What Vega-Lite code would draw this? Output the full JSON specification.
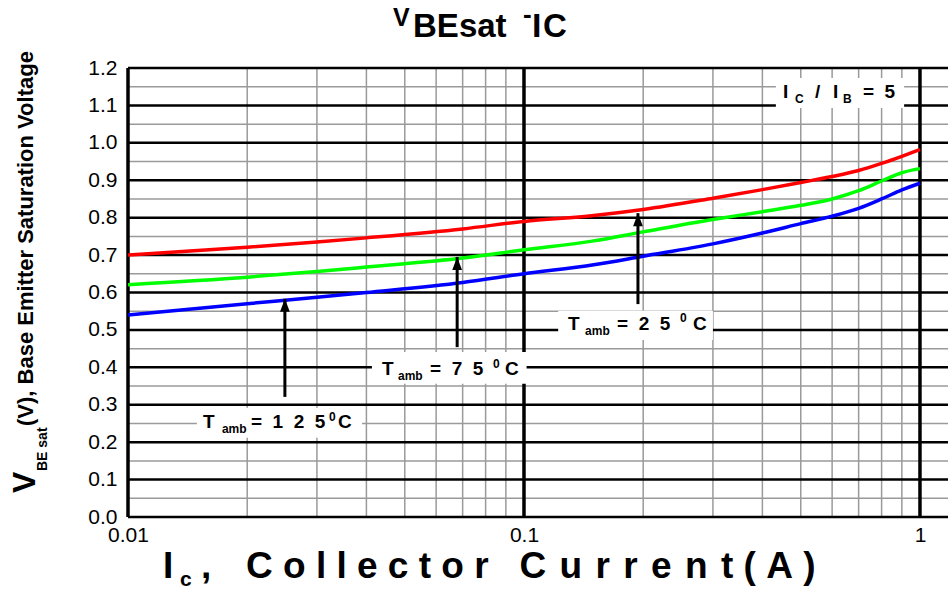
{
"$schema": "https://vega.github.io/schema/vega-lite/v6.json",
"width": 820, "height": 449,
"autosize": {"type": "none"},
"padding": {"left": 128, "top": 68, "right": 0, "bottom": 75},
"background": "white",
"config": {"view": {"stroke": null}, "text": {"font": "Liberation Sans", "fontWeight": "bold", "align": "left", "baseline": "alphabetic", "color": "black"}},
"resolve": {"axis": {"x": "independent", "y": "independent"}},
"datasets": {
 "one": [{"k": 1}],
 "xminor": [{"v":0.02},{"v":0.03},{"v":0.04},{"v":0.05},{"v":0.06},{"v":0.07},{"v":0.08},{"v":0.09},{"v":0.2},{"v":0.3},{"v":0.4},{"v":0.5},{"v":0.6},{"v":0.7},{"v":0.8},{"v":0.9}],
 "xmajor": [{"v":0.01},{"v":0.1},{"v":1}],
 "yminor": [{"v":0.05},{"v":0.15},{"v":0.25},{"v":0.35},{"v":0.45},{"v":0.55},{"v":0.65},{"v":0.75},{"v":0.85},{"v":0.95},{"v":1.05},{"v":1.15}],
 "ymajor": [{"v":0},{"v":0.1},{"v":0.2},{"v":0.3},{"v":0.4},{"v":0.5},{"v":0.6},{"v":0.7},{"v":0.8},{"v":0.9},{"v":1.0},{"v":1.1},{"v":1.2}],
 "boxes": [
  {"label":"125","x1":0.01493,"x2":0.0390,"y1":0.212,"y2":0.292},
  {"label":"75","x1":0.0413,"x2":0.1015,"y1":0.356,"y2":0.441},
  {"label":"25","x1":0.122,"x2":0.300,"y1":0.473,"y2":0.551},
  {"label":"ratio","x1":0.4326,"x2":0.912,"y1":1.093,"y2":1.173}
 ],
 "arrows": [
  {"t":"125","ic":0.0249,"base":0.321,"tip":0.583},
  {"t":"75","ic":0.0678,"base":0.454,"tip":0.695},
  {"t":"25","ic":0.194,"base":0.569,"tip":0.812}
 ],
 "curves": [
  {"t":"25","ic":0.01,"v":0.700},{"t":"25","ic":0.02,"v":0.721},{"t":"25","ic":0.03,"v":0.735},{"t":"25","ic":0.04,"v":0.746},{"t":"25","ic":0.07,"v":0.770},{"t":"25","ic":0.1,"v":0.790},{"t":"25","ic":0.15,"v":0.806},{"t":"25","ic":0.2,"v":0.822},{"t":"25","ic":0.3,"v":0.852},{"t":"25","ic":0.4,"v":0.875},{"t":"25","ic":0.5,"v":0.894},{"t":"25","ic":0.6,"v":0.910},{"t":"25","ic":0.7,"v":0.926},{"t":"25","ic":0.8,"v":0.945},{"t":"25","ic":0.9,"v":0.964},{"t":"25","ic":1.0,"v":0.982},
  {"t":"75","ic":0.01,"v":0.621},{"t":"75","ic":0.02,"v":0.641},{"t":"75","ic":0.03,"v":0.656},{"t":"75","ic":0.04,"v":0.668},{"t":"75","ic":0.07,"v":0.692},{"t":"75","ic":0.1,"v":0.714},{"t":"75","ic":0.15,"v":0.738},{"t":"75","ic":0.2,"v":0.762},{"t":"75","ic":0.3,"v":0.795},{"t":"75","ic":0.4,"v":0.816},{"t":"75","ic":0.5,"v":0.833},{"t":"75","ic":0.6,"v":0.850},{"t":"75","ic":0.7,"v":0.872},{"t":"75","ic":0.8,"v":0.898},{"t":"75","ic":0.9,"v":0.920},{"t":"75","ic":1.0,"v":0.931},
  {"t":"125","ic":0.01,"v":0.540},{"t":"125","ic":0.02,"v":0.570},{"t":"125","ic":0.03,"v":0.587},{"t":"125","ic":0.04,"v":0.600},{"t":"125","ic":0.07,"v":0.627},{"t":"125","ic":0.1,"v":0.650},{"t":"125","ic":0.15,"v":0.674},{"t":"125","ic":0.2,"v":0.697},{"t":"125","ic":0.3,"v":0.730},{"t":"125","ic":0.4,"v":0.759},{"t":"125","ic":0.5,"v":0.784},{"t":"125","ic":0.6,"v":0.804},{"t":"125","ic":0.7,"v":0.825},{"t":"125","ic":0.8,"v":0.850},{"t":"125","ic":0.9,"v":0.874},{"t":"125","ic":1.0,"v":0.892}
 ]
},
"layer": [
 {"data":{"name":"xminor"},"mark":{"type":"rule","color":"#9a9a9a","strokeWidth":1.5},
  "encoding":{"x":{"field":"v","type":"quantitative","scale":{"type":"log","domain":[0.01,1.177],"nice":false},
        "axis":{"values":[0.01,0.1,1],"labelExpr":"datum.value < 0.05 ? '0.01' : (datum.value < 0.5 ? '0.1' : '1')","grid":false,"ticks":false,"domain":false,"title":null,"labelFont":"Liberation Sans","labelFontSize":21,"labelFontWeight":"normal","labelColor":"black","labelPadding":7,"labelFlush":false,"labelOverlap":false,"orient":"bottom"}}}},
 {"data":{"name":"yminor"},"mark":{"type":"rule","color":"#9a9a9a","strokeWidth":1.5},
  "encoding":{"y":{"field":"v","type":"quantitative","scale":{"domain":[0,1.2],"nice":false,"zero":false},
        "axis":{"values":[0,0.1,0.2,0.3,0.4,0.5,0.6,0.7,0.8,0.9,1.0,1.1,1.2],"format":".1f","grid":false,"ticks":false,"domain":false,"title":null,"labelFont":"Liberation Sans","labelFontSize":21,"labelFontWeight":"normal","labelColor":"black","labelPadding":11,"labelOverlap":false,"labelFlush":false,"orient":"left"}}}},
 {"data":{"name":"ymajor"},"mark":{"type":"rule","color":"black","strokeWidth":2.5},
  "encoding":{"y":{"field":"v","type":"quantitative","axis":null}}},
 {"data":{"name":"xmajor"},"mark":{"type":"rule","color":"black","strokeWidth":3.5},
  "encoding":{"x":{"field":"v","type":"quantitative","axis":null}}},
 {"data":{"name":"boxes"},"mark":{"type":"rect","fill":"white","stroke":null},
  "encoding":{"x":{"field":"x1","type":"quantitative","axis":null},"x2":{"field":"x2"},"y":{"field":"y1","type":"quantitative","axis":null},"y2":{"field":"y2"}}},
 {"data":{"name":"curves"},"mark":{"type":"line","strokeWidth":3.5,"interpolate":"monotone"},
  "encoding":{
   "x":{"field":"ic","type":"quantitative","axis":null},
   "y":{"field":"v","type":"quantitative","axis":null},
   "color":{"field":"t","type":"nominal","scale":{"domain":["25","75","125"],"range":["#ff0000","#00ff00","#0000ff"]},"legend":null}
  }},
 {"data":{"name":"arrows"},"mark":{"type":"rule","color":"black","strokeWidth":3},
  "encoding":{"x":{"field":"ic","type":"quantitative","axis":null},"y":{"field":"base","type":"quantitative","axis":null},"y2":{"field":"tip"}}},
 {"data":{"name":"arrows"},"mark":{"type":"point","shape":"M0,0L0.75,2L-0.75,2Z","size":169,"filled":true,"color":"black","opacity":1,"strokeWidth":0},
  "encoding":{"x":{"field":"ic","type":"quantitative","axis":null},"y":{"field":"tip","type":"quantitative","axis":null}}},

 {"data":{"name":"one"},"mark":{"type":"text","text":"T","fontSize":19,"dx":0},"encoding":{"x":{"datum":0.01546,"type":"quantitative","axis":null},"y":{"datum":0.2379,"type":"quantitative","axis":null}}},
 {"data":{"name":"one"},"mark":{"type":"text","text":"amb","fontSize":12,"dx":19,"dy":5},"encoding":{"x":{"datum":0.01546,"type":"quantitative","axis":null},"y":{"datum":0.2379,"type":"quantitative","axis":null}}},
 {"data":{"name":"one"},"mark":{"type":"text","text":"=\u00a0\u00a01\u00a0\u00a02\u00a0\u00a05","fontSize":19,"dx":48},"encoding":{"x":{"datum":0.01546,"type":"quantitative","axis":null},"y":{"datum":0.2379,"type":"quantitative","axis":null}}},
 {"data":{"name":"one"},"mark":{"type":"text","text":"0","fontSize":12,"dx":126,"dy":-7},"encoding":{"x":{"datum":0.01546,"type":"quantitative","axis":null},"y":{"datum":0.2379,"type":"quantitative","axis":null}}},
 {"data":{"name":"one"},"mark":{"type":"text","text":"C","fontSize":19,"dx":135},"encoding":{"x":{"datum":0.01546,"type":"quantitative","axis":null},"y":{"datum":0.2379,"type":"quantitative","axis":null}}},

 {"data":{"name":"one"},"mark":{"type":"text","text":"T","fontSize":19,"dx":0},"encoding":{"x":{"datum":0.0438,"type":"quantitative","axis":null},"y":{"datum":0.3795,"type":"quantitative","axis":null}}},
 {"data":{"name":"one"},"mark":{"type":"text","text":"amb","fontSize":12,"dx":16,"dy":5},"encoding":{"x":{"datum":0.0438,"type":"quantitative","axis":null},"y":{"datum":0.3795,"type":"quantitative","axis":null}}},
 {"data":{"name":"one"},"mark":{"type":"text","text":"=\u00a0\u00a07\u00a0\u00a05","fontSize":19,"dx":48},"encoding":{"x":{"datum":0.0438,"type":"quantitative","axis":null},"y":{"datum":0.3795,"type":"quantitative","axis":null}}},
 {"data":{"name":"one"},"mark":{"type":"text","text":"0","fontSize":12,"dx":111,"dy":-7},"encoding":{"x":{"datum":0.0438,"type":"quantitative","axis":null},"y":{"datum":0.3795,"type":"quantitative","axis":null}}},
 {"data":{"name":"one"},"mark":{"type":"text","text":"C","fontSize":19,"dx":123},"encoding":{"x":{"datum":0.0438,"type":"quantitative","axis":null},"y":{"datum":0.3795,"type":"quantitative","axis":null}}},

 {"data":{"name":"one"},"mark":{"type":"text","text":"T","fontSize":19,"dx":0},"encoding":{"x":{"datum":0.1292,"type":"quantitative","axis":null},"y":{"datum":0.4998,"type":"quantitative","axis":null}}},
 {"data":{"name":"one"},"mark":{"type":"text","text":"amb","fontSize":12,"dx":17,"dy":5},"encoding":{"x":{"datum":0.1292,"type":"quantitative","axis":null},"y":{"datum":0.4998,"type":"quantitative","axis":null}}},
 {"data":{"name":"one"},"mark":{"type":"text","text":"=\u00a0\u00a02\u00a0\u00a05","fontSize":19,"dx":49},"encoding":{"x":{"datum":0.1292,"type":"quantitative","axis":null},"y":{"datum":0.4998,"type":"quantitative","axis":null}}},
 {"data":{"name":"one"},"mark":{"type":"text","text":"0","fontSize":12,"dx":112,"dy":-8},"encoding":{"x":{"datum":0.1292,"type":"quantitative","axis":null},"y":{"datum":0.4998,"type":"quantitative","axis":null}}},
 {"data":{"name":"one"},"mark":{"type":"text","text":"C","fontSize":19,"dx":125},"encoding":{"x":{"datum":0.1292,"type":"quantitative","axis":null},"y":{"datum":0.4998,"type":"quantitative","axis":null}}},

 {"data":{"name":"one"},"mark":{"type":"text","text":"I","fontSize":19,"dx":0},"encoding":{"x":{"datum":0.4508,"type":"quantitative","axis":null},"y":{"datum":1.1198,"type":"quantitative","axis":null}}},
 {"data":{"name":"one"},"mark":{"type":"text","text":"C","fontSize":12,"dx":12,"dy":5},"encoding":{"x":{"datum":0.4508,"type":"quantitative","axis":null},"y":{"datum":1.1198,"type":"quantitative","axis":null}}},
 {"data":{"name":"one"},"mark":{"type":"text","text":"/","fontSize":19,"dx":32},"encoding":{"x":{"datum":0.4508,"type":"quantitative","axis":null},"y":{"datum":1.1198,"type":"quantitative","axis":null}}},
 {"data":{"name":"one"},"mark":{"type":"text","text":"I","fontSize":19,"dx":50},"encoding":{"x":{"datum":0.4508,"type":"quantitative","axis":null},"y":{"datum":1.1198,"type":"quantitative","axis":null}}},
 {"data":{"name":"one"},"mark":{"type":"text","text":"B","fontSize":12,"dx":60,"dy":5},"encoding":{"x":{"datum":0.4508,"type":"quantitative","axis":null},"y":{"datum":1.1198,"type":"quantitative","axis":null}}},
 {"data":{"name":"one"},"mark":{"type":"text","text":"=\u00a0\u00a05","fontSize":19,"dx":80},"encoding":{"x":{"datum":0.4508,"type":"quantitative","axis":null},"y":{"datum":1.1198,"type":"quantitative","axis":null}}},

 {"data":{"name":"one"},"mark":{"type":"text","text":"V","fontSize":25,"dx":0,"dy":-11},"encoding":{"x":{"datum":0.0467,"type":"quantitative","axis":null},"y":{"datum":1.2829,"type":"quantitative","axis":null}}},
 {"data":{"name":"one"},"mark":{"type":"text","text":"BEsat","fontSize":33,"dx":20},"encoding":{"x":{"datum":0.0467,"type":"quantitative","axis":null},"y":{"datum":1.2829,"type":"quantitative","axis":null}}},
 {"data":{"name":"one"},"mark":{"type":"text","text":"-","fontSize":26,"dx":130,"dy":-14},"encoding":{"x":{"datum":0.0467,"type":"quantitative","axis":null},"y":{"datum":1.2829,"type":"quantitative","axis":null}}},
 {"data":{"name":"one"},"mark":{"type":"text","text":"I","fontSize":34,"dx":139},"encoding":{"x":{"datum":0.0467,"type":"quantitative","axis":null},"y":{"datum":1.2829,"type":"quantitative","axis":null}}},
 {"data":{"name":"one"},"mark":{"type":"text","text":"C","fontSize":33,"dx":150},"encoding":{"x":{"datum":0.0467,"type":"quantitative","axis":null},"y":{"datum":1.2829,"type":"quantitative","axis":null}}},

 {"data":{"name":"one"},"mark":{"type":"text","text":"I","fontSize":37,"dx":0},"encoding":{"x":{"datum":0.012257,"type":"quantitative","axis":null},"y":{"datum":-0.1630,"type":"quantitative","axis":null}}},
 {"data":{"name":"one"},"mark":{"type":"text","text":"c","fontSize":21,"dx":17,"dy":8},"encoding":{"x":{"datum":0.012257,"type":"quantitative","axis":null},"y":{"datum":-0.1630,"type":"quantitative","axis":null}}},
 {"data":{"name":"one"},"mark":{"type":"text","text":",","fontSize":37,"dx":38},"encoding":{"x":{"datum":0.012257,"type":"quantitative","axis":null},"y":{"datum":-0.1630,"type":"quantitative","axis":null}}},
 {"data":{"name":"one"},"mark":{"type":"text","text":"C o l l e c t o r\u00a0\u00a0\u00a0C\u00a0\u200au\u00a0\u200ar\u00a0\u200ar\u00a0\u200ae\u00a0\u200an\u00a0\u200at\u00a0(\u00a0A\u00a0)","fontSize":37,"dx":83},"encoding":{"x":{"datum":0.012257,"type":"quantitative","axis":null},"y":{"datum":-0.1630,"type":"quantitative","axis":null}}},

 {"data":{"name":"one"},"mark":{"type":"text","text":"V","fontSize":32,"angle":270,"dx":0,"dy":0},"encoding":{"x":{"datum":0.005823,"type":"quantitative","axis":null},"y":{"datum":0.0641,"type":"quantitative","axis":null}}},
 {"data":{"name":"one"},"mark":{"type":"text","text":"BE sat","fontSize":14,"angle":270,"dx":22,"dy":12},"encoding":{"x":{"datum":0.005823,"type":"quantitative","axis":null},"y":{"datum":0.0641,"type":"quantitative","axis":null}}},
 {"data":{"name":"one"},"mark":{"type":"text","text":"(V), Base Emitter Saturation Voltage","fontSize":22,"angle":270,"dx":67,"dy":-2},"encoding":{"x":{"datum":0.005823,"type":"quantitative","axis":null},"y":{"datum":0.0641,"type":"quantitative","axis":null}}}
]
}
